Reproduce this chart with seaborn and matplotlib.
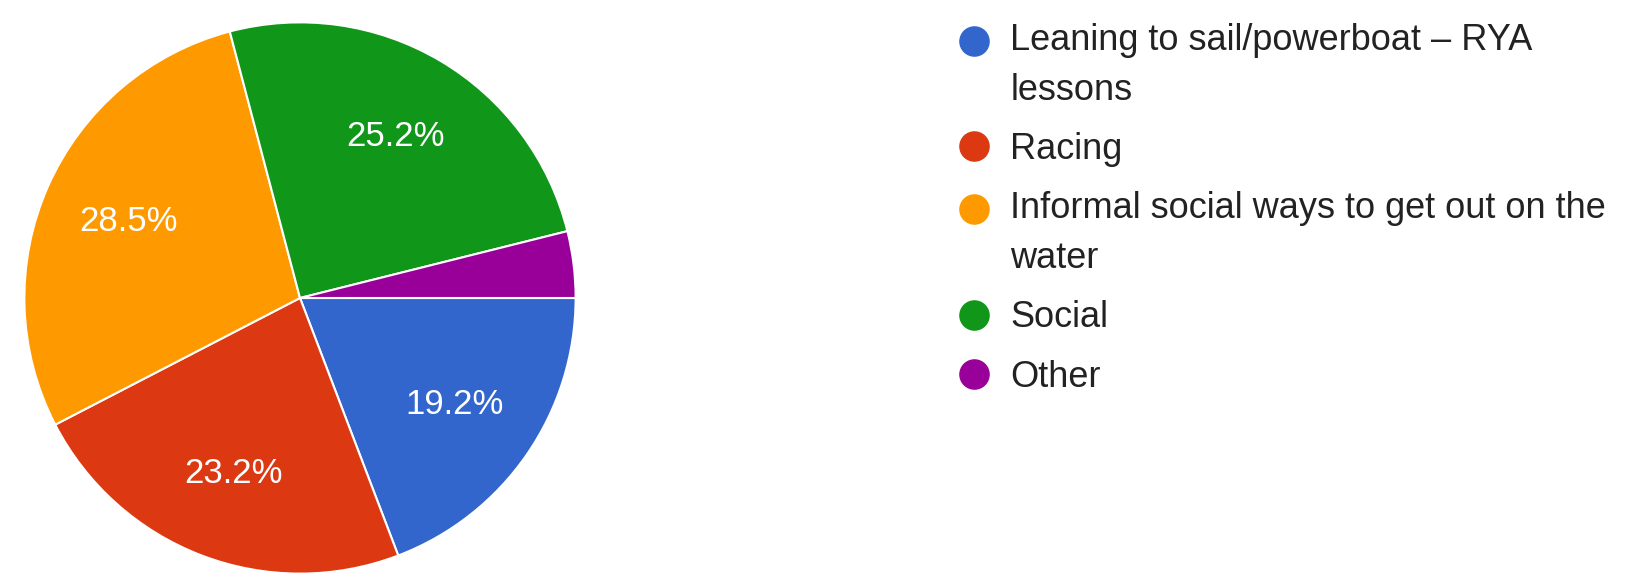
import numpy as np
import pandas as pd
import seaborn as sns
from matplotlib import pyplot as plt
from matplotlib.lines import Line2D
from matplotlib.legend_handler import HandlerLine2D

categories = ['Leaning to sail/powerboat \u2013 RYA\nlessons',
              'Racing',
              'Informal social ways to get out on the\nwater',
              'Social',
              'Other']
shares = [19.2, 23.2, 28.5, 25.2, 3.9]
palette = ['#3366CC', '#DC3912', '#FF9900', '#109618', '#990099']

sns.set_theme(style='white')
plt.rcParams['font.family'] = ['Liberation Sans', 'DejaVu Sans']

df = pd.DataFrame({'category': categories, 'share': shares})


# put the dot next to the first line of a wrapped label
class TopDot(HandlerLine2D):
    def __init__(self, shift=0, **kw):
        super().__init__(**kw)
        self.shift = shift

    def create_artists(self, legend, orig_handle, xdescent, ydescent,
                       width, height, fontsize, trans):
        return super().create_artists(legend, orig_handle, xdescent,
                                      ydescent - self.shift, width, height,
                                      fontsize, trans)


fig = plt.figure(figsize=(16.25, 5.73), dpi=100)
ax = fig.add_axes([23 / 1625, -2 / 573, 554 / 1625, 554 / 573])

def fmt(p):
    return f'{p:.1f}%' if p > 5 else ''

wedges, texts, autotexts = ax.pie(
    df['share'], colors=palette, startangle=0, counterclock=False,
    autopct=fmt, pctdistance=0.68,
    wedgeprops=dict(edgecolor='white', linewidth=1.5),
    textprops=dict(color='white', fontsize=25))
ax.set_xlim(-1.005, 1.005)
ax.set_ylim(-1.005, 1.005)
ax.set_aspect('equal')
ax.axis('off')

handles = [Line2D([], [], marker='o', linestyle='', markersize=21,
                  markerfacecolor=c, markeredgecolor=c) for c in palette]
hmap = {h: TopDot(shift=37 if '\n' in lab else 0)
        for h, lab in zip(handles, df['category'])}
leg = fig.legend(handles, list(df['category']), loc='upper left',
                 bbox_to_anchor=(938 / 1625, 1 - 5 / 573),
                 frameon=False, fontsize=26, handlelength=1.0,
                 handletextpad=0.5, labelspacing=0.67, borderpad=0,
                 handler_map=hmap)
for t in leg.get_texts():
    t.set_color('#222222')
    t.set_linespacing(1.55)

fig.savefig('out.png', dpi=100)
